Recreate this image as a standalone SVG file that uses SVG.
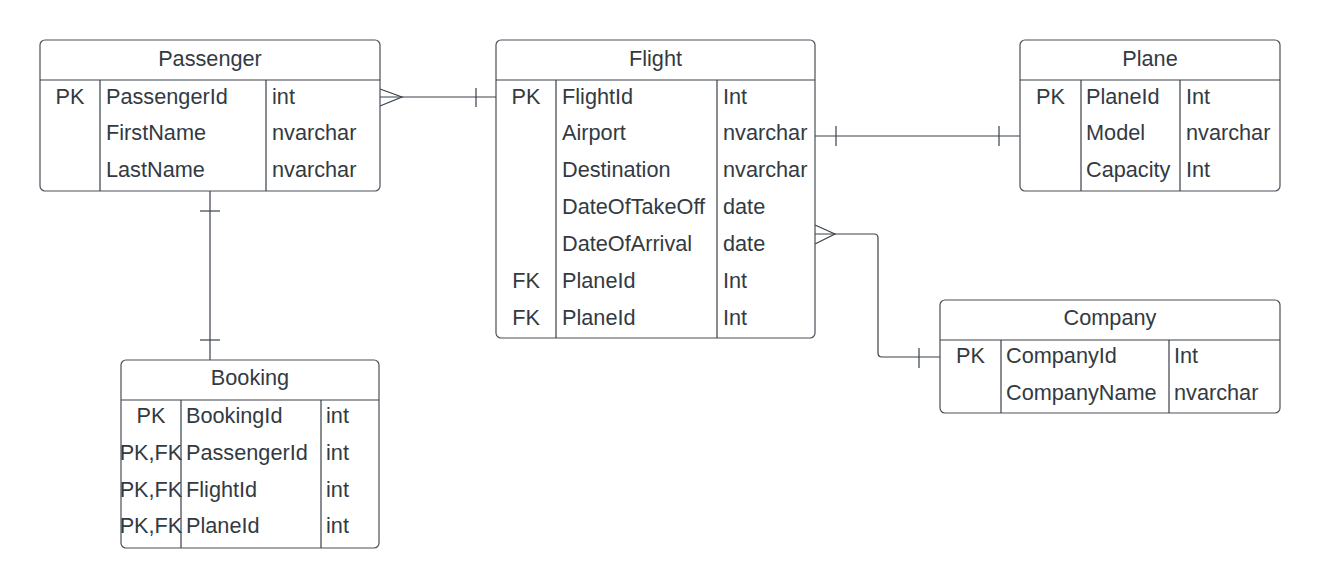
<svg xmlns="http://www.w3.org/2000/svg" width="1320" height="588" viewBox="0 0 1320 588">
<style>
.box{fill:#ffffff;stroke:#4a5058;stroke-width:1.2}
.ln{fill:none;stroke:#3a414a;stroke-width:1.2}
.t{font-family:"Liberation Sans",Arial,sans-serif;font-size:21.7px;fill:#333a42}
.c{text-anchor:middle}
</style>
<rect width="1320" height="588" fill="#ffffff"/>
<g id="connectors">
  <!-- Passenger - Flight -->
  <path class="ln" d="M380 97 H496"/>
  <path class="ln" d="M380 89 L402 97 L380 106"/>
  <path class="ln" d="M476 88 V107"/>
  <!-- Passenger - Booking -->
  <path class="ln" d="M210 191 V360"/>
  <path class="ln" d="M200 211 H220"/>
  <path class="ln" d="M200 340 H220"/>
  <!-- Flight - Plane -->
  <path class="ln" d="M815 136 H1020"/>
  <path class="ln" d="M836 126 V146"/>
  <path class="ln" d="M999 126 V146"/>
  <!-- Flight - Company -->
  <path class="ln" d="M815 234 H874 Q878 234 878 238 V353 Q878 357 882 357 H940"/>
  <path class="ln" d="M815 225 L835 234 L815 244"/>
  <path class="ln" d="M919 348 V368"/>
</g>
<g id="passenger">
  <rect class="box" x="40" y="40" width="340" height="151" rx="5"/>
  <path class="ln" d="M40 80 H380 M100 80 V191 M266 80 V191"/>
  <text class="t c" x="210" y="66">Passenger</text>
  <text class="t c" x="70" y="103.5">PK</text>
  <text class="t" x="106" y="103.5">PassengerId</text>
  <text class="t" x="272" y="103.5">int</text>
  <text class="t" x="106" y="140">FirstName</text>
  <text class="t" x="272" y="140">nvarchar</text>
  <text class="t" x="106" y="177">LastName</text>
  <text class="t" x="272" y="177">nvarchar</text>
</g>
<g id="flight">
  <rect class="box" x="496" y="40" width="319" height="298" rx="5"/>
  <path class="ln" d="M496 80 H815 M556 80 V338 M717 80 V338"/>
  <text class="t c" x="655.5" y="66">Flight</text>
  <text class="t c" x="526" y="103.5">PK</text>
  <text class="t" x="562" y="103.5">FlightId</text>
  <text class="t" x="723" y="103.5">Int</text>
  <text class="t" x="562" y="140.4">Airport</text>
  <text class="t" x="723" y="140.4">nvarchar</text>
  <text class="t" x="562" y="177.2">Destination</text>
  <text class="t" x="723" y="177.2">nvarchar</text>
  <text class="t" x="562" y="214.1">DateOfTakeOff</text>
  <text class="t" x="723" y="214.1">date</text>
  <text class="t" x="562" y="250.9">DateOfArrival</text>
  <text class="t" x="723" y="250.9">date</text>
  <text class="t c" x="526" y="287.8">FK</text>
  <text class="t" x="562" y="287.8">PlaneId</text>
  <text class="t" x="723" y="287.8">Int</text>
  <text class="t c" x="526" y="324.6">FK</text>
  <text class="t" x="562" y="324.6">PlaneId</text>
  <text class="t" x="723" y="324.6">Int</text>
</g>
<g id="plane">
  <rect class="box" x="1020" y="40" width="260" height="151" rx="5"/>
  <path class="ln" d="M1020 80 H1280 M1081 80 V191 M1180 80 V191"/>
  <text class="t c" x="1150" y="66">Plane</text>
  <text class="t c" x="1050.5" y="103.5">PK</text>
  <text class="t" x="1086" y="103.5">PlaneId</text>
  <text class="t" x="1186" y="103.5">Int</text>
  <text class="t" x="1086" y="140">Model</text>
  <text class="t" x="1186" y="140">nvarchar</text>
  <text class="t" x="1086" y="177">Capacity</text>
  <text class="t" x="1186" y="177">Int</text>
</g>
<g id="booking">
  <rect class="box" x="121" y="360" width="258" height="188" rx="5"/>
  <path class="ln" d="M121 400 H379 M181 400 V548 M321 400 V548"/>
  <text class="t c" x="250" y="385">Booking</text>
  <text class="t c" x="151" y="423.3">PK</text>
  <text class="t" x="186" y="423.3">BookingId</text>
  <text class="t" x="326" y="423.3">int</text>
  <text class="t c" x="151" y="460">PK,FK</text>
  <text class="t" x="186" y="460">PassengerId</text>
  <text class="t" x="326" y="460">int</text>
  <text class="t c" x="151" y="496.7">PK,FK</text>
  <text class="t" x="186" y="496.7">FlightId</text>
  <text class="t" x="326" y="496.7">int</text>
  <text class="t c" x="151" y="533.3">PK,FK</text>
  <text class="t" x="186" y="533.3">PlaneId</text>
  <text class="t" x="326" y="533.3">int</text>
</g>
<g id="company">
  <rect class="box" x="940" y="300" width="340" height="113" rx="5"/>
  <path class="ln" d="M940 340 H1280 M1001 340 V413 M1169 340 V413"/>
  <text class="t c" x="1110" y="324.5">Company</text>
  <text class="t c" x="970.5" y="362.5">PK</text>
  <text class="t" x="1006" y="362.5">CompanyId</text>
  <text class="t" x="1174" y="362.5">Int</text>
  <text class="t" x="1006" y="399.5">CompanyName</text>
  <text class="t" x="1174" y="399.5">nvarchar</text>
</g>
</svg>
